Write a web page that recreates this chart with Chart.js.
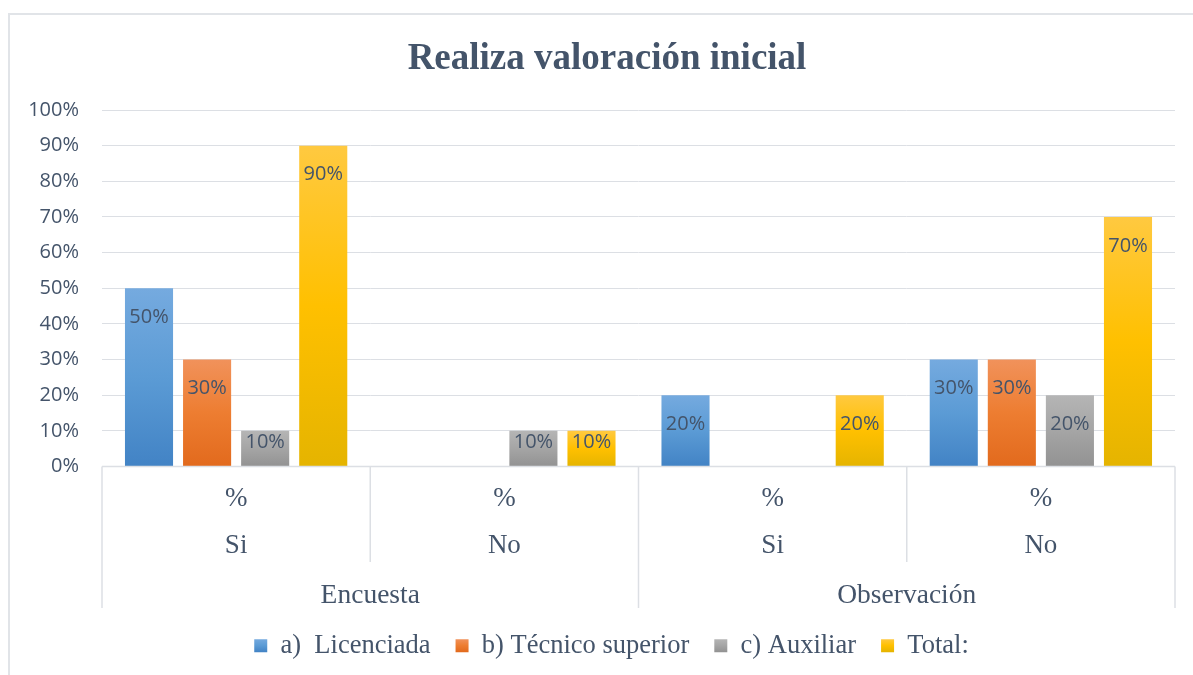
<!DOCTYPE html>
<html>
<head>
<meta charset="utf-8">
<script src="https://cdn.jsdelivr.net/npm/chart.js@4.4.1/dist/chart.umd.min.js"></script>
<style>
  html, body { margin: 0; padding: 0; background: #ffffff; overflow: hidden; }
  #wrap { position: relative; width: 1193px; height: 675px; }
  #frame { position: absolute; left: 8px; top: 13px; width: 1200px; height: 700px;
           border-left: 2px solid #E1E4E8; border-top: 2px solid #E1E4E8; box-sizing: border-box; }
  #c { position: absolute; left: 0; top: 0; }
</style>
</head>
<body>
<div id="wrap">
  <div id="frame"></div>
  <canvas id="c" width="1193" height="675"></canvas>
</div>
<script>
// ---- data ----
const titleText = 'Realiza valoración inicial';
const subLabel = '%';
const categories = ['Si', 'No', 'Si', 'No'];
const groups = ['Encuesta', 'Observación'];
const seriesNames = ['a)  Licenciada', 'b) Técnico superior', 'c) Auxiliar', 'Total:'];
const licenciada = [0.5, 0.0, 0.2, 0.3];
const tecnico    = [0.3, 0.0, 0.0, 0.3];
const auxiliar   = [0.1, 0.1, 0.0, 0.2];
const total      = [0.9, 0.1, 0.2, 0.7];
const yTickLabels = ['0%', '10%', '20%', '30%', '40%', '50%', '60%', '70%', '80%', '90%', '100%'];

// ---- styles ----
const TXT = '#44546A';
const GRID = '#DCDFE4';
const palettes = [
  ['#75AADF', '#5B9BD5', '#4283C5'],
  ['#F1925B', '#ED7D31', '#E26A1D'],
  ['#B5B5B5', '#A5A5A5', '#929292'],
  ['#FFC940', '#FFC000', '#E5B400']
];

function grad(cols) {
  return function (ctx) {
    if (ctx.type !== 'data') return cols[1];
    const chart = ctx.chart;
    const ys = chart.scales && chart.scales.y;
    if (!ys || !chart.chartArea) return cols[1];
    const v = ctx.dataset.data[ctx.dataIndex];
    const top = ys.getPixelForValue(v);
    const bot = ys.getPixelForValue(0);
    if (!(bot - top > 0)) return cols[1];
    const g = chart.ctx.createLinearGradient(0, top, 0, bot);
    g.addColorStop(0, cols[0]);
    g.addColorStop(0.5, cols[1]);
    g.addColorStop(1, cols[2]);
    return g;
  };
}

const seriesData = [licenciada, tecnico, auxiliar, total];
const datasets = seriesData.map((d, i) => ({
  label: seriesNames[i],
  data: d,
  backgroundColor: grad(palettes[i]),
  borderWidth: 0,
  categoryPercentage: 0.866,
  barPercentage: 0.828
}));

const LEGEND_SHIFT = 19;

const extras = {
  id: 'extras',
  afterLayout(chart) {
    if (chart.legend) {
      chart.legend.left += LEGEND_SHIFT;
      chart.legend.right += LEGEND_SHIFT;
    }
  },
  afterDraw(chart) {
    const ctx = chart.ctx;
    const xs = chart.scales.x;
    const ys = chart.scales.y;
    const area = chart.chartArea;
    ctx.save();
    // title
    ctx.fillStyle = TXT;
    ctx.font = 'bold 37px "Liberation Serif"';
    ctx.textAlign = 'center';
    ctx.textBaseline = 'alphabetic';
    ctx.fillText(titleText, 607, 69);

    // separators below axis
    const p = categories.map((c, i) => xs.getPixelForValue(i));
    const b01 = (p[0] + p[1]) / 2, b12 = (p[1] + p[2]) / 2, b23 = (p[2] + p[3]) / 2;
    const y0 = ys.getPixelForValue(0);
    ctx.strokeStyle = GRID;
    ctx.lineWidth = 1.5;
    [[area.left, 608], [b12, 608], [area.right, 608], [b01, 562], [b23, 562]].forEach(([x, yEnd]) => {
      ctx.beginPath();
      ctx.moveTo(x, y0);
      ctx.lineTo(x, yEnd);
      ctx.stroke();
    });
    ctx.beginPath();
    ctx.moveTo(area.left, y0);
    ctx.lineTo(area.right, y0);
    ctx.stroke();

    // group labels
    ctx.fillStyle = TXT;
    ctx.font = '27.5px "Liberation Serif"';
    ctx.fillText(groups[0], (area.left + b12) / 2, 603);
    ctx.fillText(groups[1], (b12 + area.right) / 2, 603);

    // data labels
    ctx.font = '20px "Open Sans"';
    ctx.textBaseline = 'middle';
    chart.data.datasets.forEach((ds, di) => {
      const meta = chart.getDatasetMeta(di);
      meta.data.forEach((el, i) => {
        const v = ds.data[i];
        if (!v) return;
        const base = ys.getPixelForValue(0);
        const y = Math.min(el.y + 29, base - 24);
        ctx.fillText(Math.round(v * 100) + '%', el.x, y);
      });
    });
    ctx.restore();
  }
};

new Chart(document.getElementById('c'), {
  type: 'bar',
  data: {
    labels: categories.map(c => [subLabel, c]),
    datasets: datasets
  },
  options: {
    responsive: false,
    animation: false,
    devicePixelRatio: 1,
    layout: { padding: { top: 110, left: 10, right: 18, bottom: 6 } },
    plugins: {
      title: { display: false },
      tooltip: { enabled: false },
      legend: {
        position: 'bottom',
        labels: {
          boxWidth: 13,
          boxHeight: 13,
          padding: 25,
          color: TXT,
          font: { family: 'Liberation Serif', size: 26.5 },
          generateLabels(chart) {
            const items = Chart.defaults.plugins.legend.labels.generateLabels(chart);
            items.forEach((it, i) => {
              const g = chart.ctx.createLinearGradient(0, 639, 0, 652);
              g.addColorStop(0, palettes[i][0]);
              g.addColorStop(0.5, palettes[i][1]);
              g.addColorStop(1, palettes[i][2]);
              it.fillStyle = g;
              it.lineWidth = 0;
              it.strokeStyle = 'rgba(0,0,0,0)';
            });
            return items;
          }
        }
      }
    },
    scales: {
      x: {
        grid: { display: false, drawTicks: false },
        border: { display: false },
        ticks: {
          color: TXT,
          font: { family: 'Liberation Serif', size: 27, lineHeight: 1.74 },
          padding: 8.5,
          maxRotation: 0,
          autoSkip: false
        },
        afterFit(s) { s.height = 141; }
      },
      y: {
        min: 0,
        max: 1,
        grid: { color: GRID, lineWidth: 1, drawTicks: false },
        border: { display: false },
        ticks: {
          stepSize: 0.1,
          color: TXT,
          padding: 23,
          font: { family: 'Open Sans', size: 20 },
          callback: (v, i) => yTickLabels[Math.round(v * 10)]
        },
        afterFit(s) { s.width = 92; }
      }
    }
  },
  plugins: [extras]
});
</script>
</body>
</html>
